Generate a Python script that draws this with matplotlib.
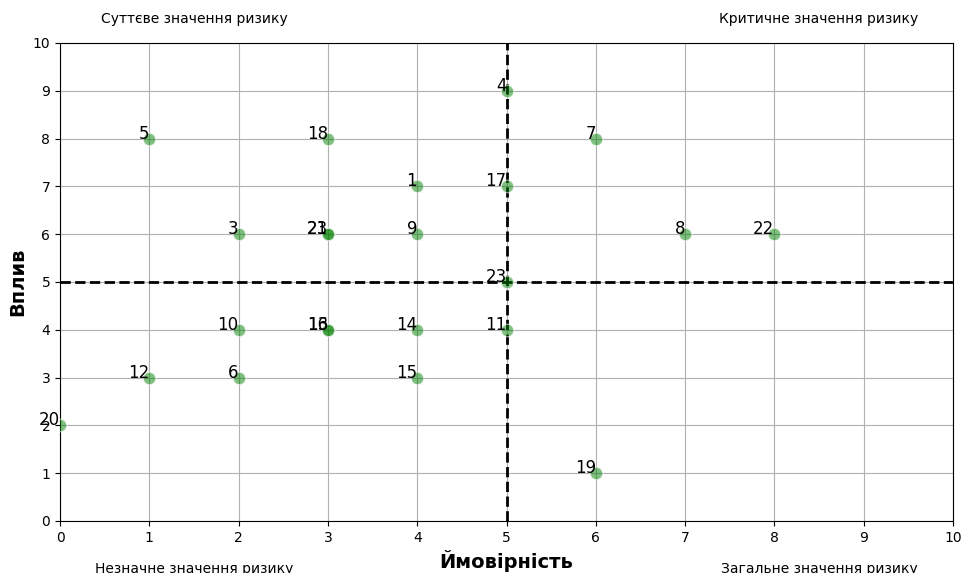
import matplotlib
matplotlib.use("Agg")
import matplotlib.pyplot as plt

labels = ["1", "23", "3", "4", "5", "6", "7", "8", "9", "10", "11", "12",
          "13", "14", "15", "16", "17", "18", "19", "20", "21", "22", "23"]
prob =   [4, 3, 2, 5, 1, 2, 6, 7, 4, 2, 5, 1, 3, 4, 4, 3, 5, 3, 6, 0, 3, 8, 5]
impact = [7, 6, 6, 9, 8, 3, 8, 6, 6, 4, 4, 3, 4, 4, 3, 4, 7, 8, 1, 2, 6, 6, 5]
ticks = list(range(0, 11))
corner_texts = ["Суттєве значення ризику", "Критичне значення ризику",
                "Незначне значення ризику", "Загальне значення ризику"]
corner_pos = [(1.5, 10.5), (8.5, 10.5), (1.5, -1.0), (8.5, -1.0)]

fig = plt.figure(figsize=(9.63, 5.73), dpi=100)
ax = fig.add_axes([60/963, 1 - 521/573, (953-60)/963, (521-43)/573])

ax.scatter(prob, impact, s=80, color="green", alpha=0.5, edgecolors="w", zorder=3)
for x, y, l in zip(prob, impact, labels):
    ax.text(x, y, l, fontsize=12, ha="right", zorder=4)

ax.axhline(5, color="black", linestyle="--", linewidth=2)
ax.axvline(5, color="black", linestyle="--", linewidth=2)

ax.set_xlim(0, 10)
ax.set_ylim(0, 10)
ax.set_xticks(ticks)
ax.set_yticks(ticks)
ax.grid(True)
ax.set_axisbelow(True)
ax.set_xlabel("Ймовірність", fontsize=14, fontweight="bold")
ax.set_ylabel("Вплив", fontsize=14, fontweight="bold")

for (x, y), t in zip(corner_pos, corner_texts):
    ax.text(x, y, t, fontsize=10, ha="center", va="center", clip_on=False)

fig.savefig("out.png", dpi=100)
